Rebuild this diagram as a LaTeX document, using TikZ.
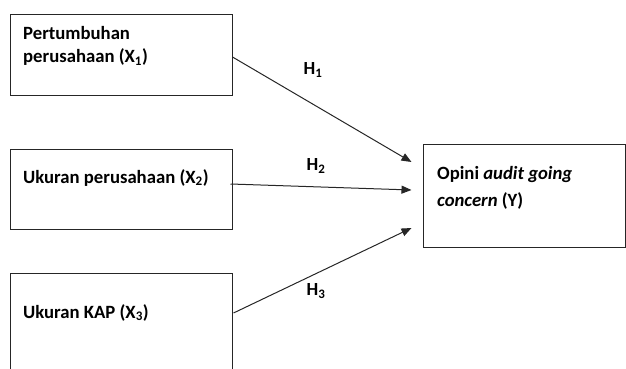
\documentclass[tikz,border=0pt]{standalone}
\usepackage{fontspec}
\setmainfont{Carlito}
\usetikzlibrary{arrows.meta,calc}
\begin{document}
\begin{tikzpicture}[x=1pt,y=-1pt,
  box/.style={draw=black!85,line width=1pt,rectangle,inner sep=0pt},
  lbl/.style={anchor=base west,inner sep=0pt,font=\fontsize{18.7}{23}\selectfont\bfseries},
  hyp/.style={inner sep=0pt,font=\fontsize{18.5}{23}\selectfont\bfseries},
  conn/.style={draw=black!85,line width=1pt,-{Triangle[length=10pt,width=8pt]}}]
\clip (0,0) rectangle (626,369);
% boxes
\node[box,minimum width=222pt,minimum height=80pt] (b1) at (121,55) {};
\node[box,minimum width=222pt,minimum height=80pt] (b2) at (121,189) {};
\node[box,minimum width=222pt,minimum height=160pt] (b3) at (121,353) {};
\node[box,minimum width=202pt,minimum height=103pt] (y) at (524,195.5) {};
% texts
\node[lbl] (t1a) at (23,40) {Pertumbuhan};
\node[lbl] (t1b) at (23,63) {perusahaan (X\textsubscript{1})};
\node[lbl] (t2) at (23,183) {Ukuran perusahaan (X\textsubscript{2})};
\node[lbl] (t3) at (23,318) {Ukuran KAP (X\textsubscript{3})};
\node[lbl] (ya) at (437,179) {Opini \textit{audit going}};
\node[lbl] (yb) at (437,206) {\textit{concern} (Y)};
% hypothesis labels
\node[hyp] (h1) at (313,70) {H\textsubscript{1}};
\node[hyp] (h2) at (316,166) {H\textsubscript{2}};
\node[hyp] (h3) at (316,291) {H\textsubscript{3}};
% arrow tips
\coordinate (e1) at ($(y.west)+(-11,-33.5)$);
\coordinate (e2) at ($(y.west)+(-11,-5.5)$);
\coordinate (e3) at ($(y.west)+(-11,32.5)$);
\draw[conn] ([yshift=-2pt]b1.east) -- (e1);
\draw[conn] ([xshift=-2pt,yshift=5pt]b2.east) -- (e2);
\draw[conn] ([xshift=1pt,yshift=40pt]b3.east) -- (e3);
\end{tikzpicture}
\end{document}
